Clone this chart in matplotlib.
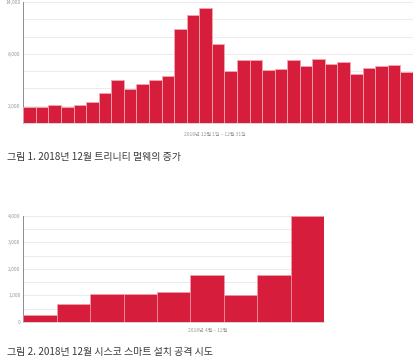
import numpy as np
import matplotlib
matplotlib.use("Agg")
import matplotlib.pyplot as plt

plt.rcParams['font.family'] = ['Noto Sans CJK KR', 'DejaVu Sans']

# Figure 1: Trinity malware, daily, 1-31 December 2018
dec_days = list(range(1, 32))
trinity = [1790, 1860, 2090, 1860, 2090, 2370, 3420, 4930, 3880, 4500,
           4970, 5430, 10860, 12490, 13300, 9190, 6010, 7330, 7330, 6130,
           6280, 7330, 6630, 7440, 6830, 7020, 5630, 6330, 6630, 6710, 5860]

# Figure 2: Cisco Smart Install attack attempts, monthly, Apr-Dec 2018
months = ['4월', '5월', '6월', '7월', '8월', '9월', '10월', '11월', '12월']
cisco = [270, 670, 1070, 1045, 1145, 1750, 1000, 1750, 4000]

bar_color = '#d61e3c'
edge_color = '#f2a6b2'
grid_color = '#ebebeb'
tick_color = '#9a9a9a'

fig = plt.figure(figsize=(4.2, 3.6), dpi=100)

# top chart
ax1 = fig.add_axes([0.0555, 0.659, 0.9275, 0.335])
x1 = np.arange(len(dec_days))
ax1.bar(x1, trinity, width=1.0, color=bar_color, edgecolor=edge_color,
        linewidth=0.6, zorder=3)
ax1.set_xlim(-0.5, len(dec_days) - 0.5)
ax1.set_ylim(0, 14000)
ticks1 = list(range(2000, 14001, 2000))
ax1.set_yticks(ticks1)
ax1.set_yticklabels(['{:,}'.format(t) if t in (2000, 8000, 14000) else ''
                     for t in ticks1])
ax1.set_xticks([])
ax1.grid(axis='y', color=grid_color, linewidth=0.7, zorder=0)

# bottom chart
ax2 = fig.add_axes([0.0555, 0.1056, 0.7165, 0.2952])
x2 = np.arange(len(months))
ax2.bar(x2, cisco, width=1.0, color=bar_color, edgecolor=edge_color,
        linewidth=0.4, zorder=3)
ax2.set_xlim(-0.5, len(months) - 0.5)
ax2.set_ylim(0, 4000)
ax2.set_yticks(np.arange(0, 4001, 500))
ax2.set_yticklabels(['{:,}'.format(t) if t % 1000 == 0 else ''
                     for t in range(0, 4001, 500)])
ax2.set_xticks([])
ax2.grid(axis='y', color=grid_color, linewidth=0.7, zorder=0)

for ax in (ax1, ax2):
    for side in ('top', 'right'):
        ax.spines[side].set_visible(False)
    ax.spines['left'].set_color('#8c8c8c')
    ax.spines['left'].set_linewidth(0.7)
    ax.spines['bottom'].set_color('#cfcfcf')
    ax.spines['bottom'].set_linewidth(0.6)
    ax.tick_params(axis='y', length=0, labelsize=3.6, colors=tick_color, pad=2)

fig.text(215 / 420, 1 - 134 / 360, '2018년 12월 1일 – 12월 31일',
         ha='center', va='center', fontsize=3.6, color=tick_color)
fig.text(208 / 420, 1 - 331 / 360, '2018년 4월 – 12월',
         ha='center', va='center', fontsize=3.6, color=tick_color)

fig.text(7 / 420, 1 - 157 / 360, '그림 1. 2018년 12월 트리니티 멀웨의 증가',
         ha='left', va='center', fontsize=7.2, color='#3a3a3a')
fig.text(7 / 420, 1 - 352 / 360, '그림 2. 2018년 12월 시스코 스마트 설치 공격 시도',
         ha='left', va='center', fontsize=7.2, color='#3a3a3a')

fig.savefig('out.png', dpi=100)
